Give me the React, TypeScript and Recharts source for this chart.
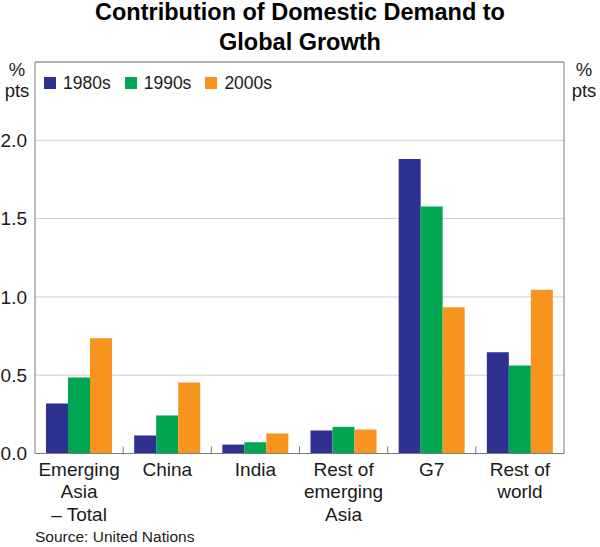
import React from 'react';
import { BarChart, Bar, XAxis, YAxis, CartesianGrid, ReferenceLine } from 'recharts';

const categories = ['Emerging\nAsia\n– Total', 'China', 'India', 'Rest of\nemerging\nAsia', 'G7', 'Rest of\nworld'];
const s1980 = [0.32, 0.115, 0.057, 0.147, 1.88, 0.647];
const s1990 = [0.485, 0.243, 0.072, 0.17, 1.578, 0.562];
const s2000 = [0.736, 0.453, 0.128, 0.153, 0.934, 1.045];
const seriesKeys = ['s1980', 's1990', 's2000'];
const seriesNames = ['1980s', '1990s', '2000s'];
const seriesColors = ['#2E3192', '#00A651', '#F7941D'];
const yTicks = [0, 0.5, 1, 1.5, 2];
const yDomain = [0, 2.5];
const titleLines = ['Contribution of Domestic Demand to', 'Global Growth'];
const unitLines = ['%', 'pts'];
const sourceText = 'Source: United Nations';

const data = categories.map((name, i) => ({
  name,
  s1980: s1980[i],
  s1990: s1990[i],
  s2000: s2000[i],
}));

const FONT = '"Liberation Sans", Arial, Helvetica, sans-serif';
const AXIS = '#7a7a7a';
const TEXT = '#1a1a1a';

const XTick = (props: any) => {
  const { x, y, payload, index } = props;
  const lines = String(payload.value).split('\n');
  const half = payload && payload.offset != null ? payload.offset : 44;
  return (
    <g>
      {index < categories.length - 1 && (
        <line x1={x + half} x2={x + half} y1={y} y2={y - 7} stroke={AXIS} strokeWidth={1} />
      )}
      <text x={x} y={y} textAnchor="middle" fontSize={19} fill={TEXT} fontFamily={FONT}>
        {lines.map((l, i) => (
          <tspan key={i} x={x} dy={i === 0 ? 22 : 22.8}>{l}</tspan>
        ))}
      </text>
    </g>
  );
};

export default function App() {
  return (
    <div style={{ position: 'absolute', left: 0, top: 0, width: 600, height: 547, background: '#fff', fontFamily: FONT, color: TEXT }}>
      <div style={{ position: 'absolute', left: 0, top: -3, width: 600, textAlign: 'center', fontWeight: 'bold', fontSize: 23.5, lineHeight: '30px', color: '#000' }}>
        {titleLines.map((t, i) => <div key={i}>{t}</div>)}
      </div>
      <div style={{ position: 'absolute', left: 0, top: 60, width: 34, textAlign: 'center', fontSize: 18.5, lineHeight: '20.5px' }}>
        {unitLines.map((t, i) => <div key={i}>{t}</div>)}
      </div>
      <div style={{ position: 'absolute', left: 566, top: 60, width: 36, textAlign: 'center', fontSize: 18.5, lineHeight: '20.5px' }}>
        {unitLines.map((t, i) => <div key={i}>{t}</div>)}
      </div>
      <div style={{ position: 'absolute', left: 0, top: 0 }}>
        <BarChart width={600} height={547} data={data} margin={{ top: 62, right: 0, bottom: 0, left: 0 }} barGap={0} barCategoryGap={11}>
          <CartesianGrid yAxisId="left" vertical={false} stroke="#cfcfcf" strokeWidth={1} />
          <XAxis dataKey="name" height={93.5} interval={0} tickSize={0} tickMargin={0} tickLine={false} axisLine={{ stroke: AXIS }} tick={<XTick />} />
          <YAxis yAxisId="left" width={35} domain={yDomain} ticks={yTicks} tickFormatter={(v: number) => v.toFixed(1)} tickSize={0} tickMargin={8} tickLine={false} axisLine={{ stroke: AXIS }} tick={{ fontSize: 19, fill: TEXT, fontFamily: FONT }} />
          <YAxis yAxisId="right" orientation="right" width={36} domain={yDomain} ticks={yTicks} tickFormatter={(v: number) => v.toFixed(1)} tickSize={0} tickMargin={9} tickLine={false} axisLine={{ stroke: AXIS }} tick={{ fontSize: 19, fill: TEXT, fontFamily: FONT }} />
          <ReferenceLine yAxisId="left" y={yDomain[1]} stroke={AXIS} />
          {seriesKeys.map((k, i) => (
            <Bar key={k} yAxisId="left" dataKey={k} name={seriesNames[i]} fill={seriesColors[i]} isAnimationActive={false} />
          ))}
        </BarChart>
      </div>
      <div style={{ position: 'absolute', left: 44, top: 73, display: 'flex', fontSize: 17.5, lineHeight: '20px' }}>
        {seriesNames.map((n, i) => (
          <div key={n} style={{ display: 'flex', alignItems: 'center', marginRight: 14 }}>
            <span style={{ display: 'inline-block', width: 12, height: 12, background: seriesColors[i], marginRight: 7 }} />
            <span>{n}</span>
          </div>
        ))}
      </div>
      <div style={{ position: 'absolute', left: 35, top: 528, fontSize: 15.5, lineHeight: '18px' }}>{sourceText}</div>
    </div>
  );
}
